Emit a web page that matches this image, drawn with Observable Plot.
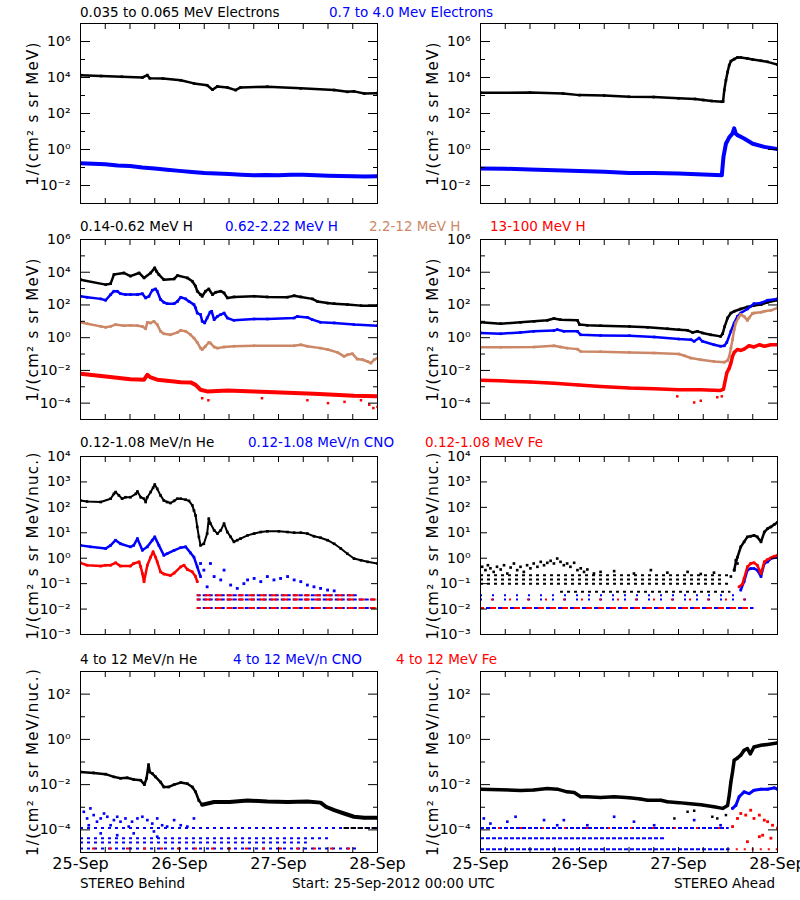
<!DOCTYPE html>
<html><head><meta charset="utf-8">
<script src="https://cdn.jsdelivr.net/npm/d3@7"></script>
<script src="https://cdn.jsdelivr.net/npm/@observablehq/plot@0.6"></script>
<style>
body{margin:0;background:#fff;}
#root{position:relative;width:800px;height:900px;overflow:hidden;font-family:"DejaVu Sans",sans-serif;background:#fff;}
.t{position:absolute;font-size:13.5px;line-height:1;white-space:nowrap;transform:translateY(-50%);}
</style></head><body><div id="root"></div><script>
// ---------------- DATA (hours since 25-Sep-2012 00:00 UTC, flux) ----------------
// Row 1: electrons
const behindElecLow = [[0,1.35e4],[5,1.2e4],[10,1.1e4],[15,1.0e4],[16.2,1.35e4],[16.8,9e3],[20,8.7e3],[24.3,7e3],[27.5,4.7e3],[30.7,3.7e3],[32,2.1e3],[33.2,3.2e3],[35.6,2.8e3],[37.6,2.0e3],[38.8,2.8e3],[45.3,3.1e3],[53.4,2.5e3],[61.5,2.0e3],[64.7,1.6e3],[66.3,1.7e3],[68.8,1.3e3],[72,1.35e3]];
const behindElecHigh = [[0,0.17],[3,0.16],[6,0.15],[9,0.13],[12,0.12],[15,0.1],[18,0.087],[21,0.075],[24,0.065],[27,0.057],[30,0.05],[33,0.046],[36,0.043],[39,0.04],[42,0.037],[45,0.038],[48,0.037],[51,0.039],[54,0.04],[57,0.037],[60,0.035],[63,0.034],[66,0.033],[69,0.032],[72,0.033]];
const aheadElecLow = [[0,1.4e3],[12,1.45e3],[20,1.3e3],[24,1.05e3],[30,1.0e3],[36,850],[42,820],[48,700],[52,640],[54,560],[56,500],[58.5,450],[58.8,460],[59.1,2e3],[59.5,7e3],[59.9,2e4],[60.3,4.9e4],[60.7,8.1e4],[61.5,1.05e5],[62.3,1.3e5],[63.1,1.3e5],[64.7,1.15e5],[66,1.0e5],[68,8.5e4],[69.6,7.4e4],[72,5.2e4]];
const aheadElecHigh = [[0,0.087],[6,0.085],[12,0.078],[18,0.07],[24,0.063],[30,0.058],[36,0.05],[42,0.05],[48,0.047],[54,0.041],[58.5,0.037],[58.9,0.39],[59.5,2.1],[60.3,4.7],[61.1,7.8],[61.5,15],[61.9,7.5],[62.3,6.3],[63.9,4.1],[66,2.1],[68.8,1.4],[72,1.05]];
// Row 2: protons
const behindH1 = [[0,3.5e3],[6.1,1.75e3],[7.3,2e3],[8.1,7.2e3],[10.5,9e3],[12.1,5.8e3],[14.2,9e3],[15.4,4.5e3],[17,9e3],[18,1.85e4],[18.4,1.15e4],[19,7.2e3],[20.2,3.5e3],[22.7,3.9e3],[23.5,6.3e3],[25.9,4.5e3],[27.1,2.8e3],[27.9,1.4e3],[28.3,690],[29.1,430],[29.5,340],[30.3,690],[31.1,950],[32,430],[32.8,600],[34,690],[34.8,540],[35.6,270],[37.2,310],[42.1,340],[45.3,310],[50.2,300],[51.8,370],[53.4,310],[56.2,235],[57.4,165],[59.9,130],[61.5,120],[64.7,105],[68,91],[72,91]];
const behindH2 = [[0,340],[1.6,295],[4.9,235],[6.1,195],[7.3,430],[8.1,690],[8.9,690],[9.7,490],[10.9,430],[12.1,430],[13.8,430],[15,490],[15.8,270],[16.6,340],[17.4,790],[18.2,950],[18.6,690],[19.4,215],[20.2,145],[21,120],[22.7,120],[23.5,165],[24.3,295],[25.5,235],[26.3,165],[27.5,105],[27.9,66],[28.3,32],[29.1,26],[29.5,10],[30.1,8],[30.7,16],[31.4,36],[31.8,41],[32.4,12.6],[33.2,20],[34,26],[34.8,32],[35.6,16],[37.2,11.5],[42.1,13.8],[45.3,13.8],[51.8,16],[52.6,20],[55,17.4],[56.2,12.6],[58.2,8.7],[61.5,8],[66.3,6.3],[72,5.4]];
const behindH3 = [[0,8.7],[1.6,7.2],[4.9,4.9],[6.1,4.3],[7.3,4.9],[8.5,6.3],[10.5,5.4],[12.1,5.7],[13.8,5.4],[15,4.9],[15.8,3.5],[16.2,8.7],[17,7.9],[17.8,10],[18.6,6.3],[19.4,2.45],[20.2,1.74],[21.8,1.5],[23.5,2.1],[24.3,2.8],[25.5,2.45],[26.7,1.5],[27.5,0.95],[28.3,0.51],[29.1,0.23],[29.5,0.19],[30.3,0.3],[31.1,0.51],[31.5,0.47],[32.4,0.27],[33.2,0.23],[34.8,0.27],[37.2,0.3],[42.1,0.32],[51.8,0.32],[53.4,0.37],[55,0.3],[58.2,0.23],[59.9,0.19],[62.3,0.126],[63.9,0.072],[64.7,0.09],[65.9,0.105],[67.1,0.049],[68.4,0.045],[69.6,0.035],[70.4,0.028],[71.2,0.045],[72,0.057]];
const behindH4 = [[0,6.3e-3],[6.1,4.3e-3],[12.1,2.9e-3],[15.4,2.7e-3],[16.2,5.4e-3],[17,3.7e-3],[18.6,2.7e-3],[21,2.3e-3],[24.3,1.9e-3],[26.7,1.85e-3],[27.9,1.3e-3],[29.1,6.6e-4],[30.7,5.2e-4],[35.6,6e-4],[42.1,5.2e-4],[46.9,4.7e-4],[51.8,4.1e-4],[56.6,3.7e-4],[61.5,3.2e-4],[66.3,2.8e-4],[72,2.6e-4]];
const behindH4Low = [[29.5,2e-4],[31,1.5e-4],[44,2e-4],[55,1.5e-4],[60,1e-4],[64,1.2e-4],[68,1.5e-4],[70,8e-5],[71,5e-5],[72,6e-5]];
const aheadH1 = [[0,8.7],[4.9,7.2],[9.7,8.7],[13,10],[16.2,11.5],[17.8,15],[19.4,12.6],[23.5,11.5],[24,6.3],[25.9,5.7],[29.1,5.4],[36.1,4.9],[40.5,4.3],[45.3,3.5],[48.1,3.1],[50.2,2.8],[51.4,2.1],[52.6,2.45],[53.8,1.95],[55.8,1.5],[58.2,1.2],[58.7,1.74],[59.2,4.9],[59.9,16],[60.7,32],[61.5,41],[63.1,57],[64.7,76],[66.3,91],[68,105],[69.6,145],[72,195]];
const aheadH2 = [[0,1.95],[4.9,1.74],[9.7,2.1],[12.9,2.45],[17.8,2.7],[18.6,3.1],[20.2,2.45],[23.5,2.45],[24.3,1.5],[29.1,1.38],[36.1,1.32],[42.1,1.1],[48.1,0.83],[51,0.76],[51.8,0.6],[53,0.95],[53.8,0.6],[56.6,0.37],[58.2,0.3],[59.1,0.32],[59.7,0.51],[60.7,2.45],[61.5,7.9],[62.3,20],[63.1,32],[64.7,57],[65.5,83],[66.3,120],[68,132],[69.6,195],[72,235]];
const aheadH3 = [[0,0.26],[4.9,0.26],[13,0.27],[17.8,0.32],[19.4,0.27],[21,0.23],[23.5,0.2],[24.3,0.145],[29.1,0.138],[36.1,0.126],[42.1,0.115],[48.1,0.1],[49.4,0.079],[51,0.057],[53.4,0.045],[56.6,0.035],[59.1,0.032],[59.9,0.04],[60.3,0.072],[60.7,0.23],[61.1,0.76],[61.5,3.1],[61.9,7.9],[62.5,16],[63.1,26],[63.9,20],[64.7,11.5],[65.1,16],[65.9,30],[66.3,32],[68,36],[68.8,41],[70.4,47],[72,66]];
const aheadH4 = [[0,2.5e-3],[4.9,2.3e-3],[12.1,1.95e-3],[17.8,1.66e-3],[23.8,1.3e-3],[29.1,1.05e-3],[36.1,8.3e-4],[42.1,7.6e-4],[48.1,6.6e-4],[53.4,6.6e-4],[58.2,6e-4],[58.9,7.2e-4],[59.2,1.66e-3],[59.7,6.9e-3],[60.3,1.38e-2],[60.7,0.028],[61.1,0.072],[61.5,0.126],[62.3,0.19],[63.1,0.166],[63.9,0.2],[65.1,0.32],[66.3,0.27],[67.6,0.37],[68.8,0.3],[70.4,0.37],[72,0.37]];
const aheadH4Low = [[47.7,2.6e-4],[51.8,1.1e-4],[53.4,1.4e-4],[57.4,2.3e-4],[58.5,2.6e-4]];
// Row 3: 0.12-1.08 MeV/n ions
const behindHe = [[0,186],[1.6,170],[4.9,162],[7.3,219],[8.1,340],[8.5,400],[9.3,295],[10.1,219],[10.9,250],[12.1,250],[13.4,340],[13.8,420],[14.6,250],[15.4,219],[15.8,162],[16.2,250],[17,400],[17.6,590],[18,790],[18.6,535],[19.4,295],[20.2,186],[21,162],[21.8,148],[22.7,180],[23.5,219],[24.3,219],[25.5,200],[26.3,180],[27.1,120],[27.5,76],[27.9,48],[28.3,17],[28.7,6.9],[29.1,3.2],[29.9,3.7],[30.7,9.3],[31.1,36],[31.5,23],[32.4,12.5],[33.2,9.3],[34,12.5],[34.8,23],[35.6,10.7],[36.4,6.9],[37.2,4.4],[38,5.1],[38.8,5.9],[40.5,7.9],[42.1,9.3],[43.7,10.7],[45.3,11.4],[48.1,11.4],[50.2,10.7],[51.8,10.1],[53.4,10.1],[55,9.3],[56.6,7.3],[58.2,6.4],[59.9,5.1],[61.5,3.7],[63.1,2.4],[64.7,1.5],[66.3,0.97],[68,0.83],[69.6,0.72],[72,0.62]];
const behindCno = [[0,3.2],[2.4,2.8],[6.1,2.4],[7.3,3.2],[8.5,5.1],[9.7,3.7],[12.1,2.8],[12.9,3.2],[13.8,5.9],[15,2.05],[16.2,2.8],[17.4,5.1],[18,6.9],[19,3.2],[20.2,1.3],[21,1.5],[22.7,2.05],[24.3,2.6],[25.5,2.8],[26.7,1.6],[27.5,1.1],[28.3,0.46],[29.1,0.19]];
const behindCnoScatter = [[29.1,0.62],[29.9,0.34],[30.7,0.075],[31.5,0.62],[32.4,0.19],[34,0.14],[34.8,0.34],[36.4,0.088],[38,0.065],[39.6,0.1],[40.5,0.14],[42.1,0.16],[43.7,0.12],[45.3,0.19],[46.9,0.14],[48.5,0.16],[50.2,0.19],[51.8,0.14],[53.4,0.12],[55,0.088],[56.6,0.075],[58.2,0.065],[59.9,0.056],[61.5,0.052]];
const behindFe = [[0,0.66],[1.6,0.53],[4.9,0.49],[6.1,0.53],[7.3,0.53],[8.5,0.66],[9.7,0.49],[12.1,0.49],[12.9,0.62],[14.2,0.72],[14.6,0.46],[15,0.25],[15.4,0.12],[16.2,0.53],[17,1.1],[17.6,1.8],[18.2,1.1],[18.6,0.72],[19.4,0.29],[20.2,0.24],[21.8,0.21],[22.7,0.26],[24.3,0.46],[25.1,0.53],[25.9,0.36],[27.1,0.29],[27.9,0.19],[28.3,0.12]];
const behindLowFloors = [[0.011,28.3,72],[0.024,28.3,72],[0.035,28.3,67.5]]; // [level, from h, to h]
const aheadHeScatter = [[0.4,0.46],[1.2,0.34],[1.8,0.53],[2.4,0.4],[3.2,0.29],[4,0.46],[4.9,0.36],[5.7,0.53],[6.5,0.25],[7.3,0.43],[8.1,0.62],[8.9,0.34],[9.7,0.46],[10.5,0.29],[11.3,0.53],[12.1,0.4],[12.9,0.62],[13.8,0.46],[14.6,0.72],[15.4,0.53],[16.2,0.66],[17,0.79],[17.8,0.62],[18.6,0.97],[19.4,0.72],[20.2,0.53],[21,0.62],[21.8,0.46],[22.7,0.66],[23.5,0.34],[24.3,0.4],[25.1,0.29],[25.9,0.36],[27.5,0.25],[29.1,0.29],[32.4,0.31],[37.2,0.25],[41.3,0.34],[45.3,0.27],[50.2,0.29],[53.4,0.24],[56.6,0.27],[60.7,0.19],[61.5,0.34],[61.9,0.83],[62.3,0.62]];
const aheadHeRows = [[0.215,0,60.5],[0.146,0,59],[0.1,0,60.5],[0.048,19.4,60.7]];
const aheadHeRise = [[61.5,0.34],[62,0.83],[62.3,1.1],[63.1,2.8],[63.9,4.4],[64.7,6.9],[65.5,7.3],[66.3,7.9],[67.1,6.9],[68,4.4],[68.8,10.7],[69.6,14.5],[70.4,17],[71.2,21],[72,26]];
const aheadCno = [[63.1,0.056],[63.9,0.12],[64.7,0.34],[65.5,0.39],[66.3,0.39],[67.1,0.34],[68,0.19],[68.8,0.62],[69.6,0.72],[70.4,0.97],[72,1.1]];
const aheadFe = [[62.7,0.075],[63.5,0.096],[63.9,0.16],[64.7,0.46],[65.5,0.62],[66.3,0.66],[67.1,0.53],[68,0.25],[68.8,0.72],[69.6,0.89],[70.4,1.03],[71.2,1.2],[72,1.3]];
const aheadLowFloors = [[0.011,0,66.3],[0.024,0,66.3],[0.035,0,62]];
// Row 4: 4-12 MeV/n ions
const behindHe4 = [[0,0.036],[3.2,0.033],[6.1,0.029],[8.1,0.022],[9.7,0.019],[11.3,0.02],[12.9,0.017],[14.6,0.0156],[15.5,0.01],[16,0.019],[16.5,0.076],[16.8,0.036],[17.4,0.031],[18.2,0.022],[19.4,0.013],[20.2,0.0079],[21.4,0.0079],[22.7,0.01],[24.3,0.0123],[25.9,0.011],[27.1,0.0079],[27.9,0.0048],[28.7,0.002],[29.5,0.0013]];
const behindHe4Late = [[29.5,0.0013],[32.4,0.0017],[36.1,0.0017],[40.5,0.002],[45.3,0.0018],[50.2,0.0017],[55,0.0018],[58.2,0.0016],[59.5,0.00105],[61.5,7.4e-4],[63.9,5.3e-4],[66.3,3.8e-4],[68.8,3.4e-4],[72,3.4e-4]];
const behindHe4Floor = [[1.2e-4,63.9,72]];
const behindCno4 = [[0.8,6.3e-4],[1.6,3.2e-4],[2.4,8.9e-4],[2,1.6e-4],[3.2,4.5e-4],[4,2.3e-4],[4.9,3.2e-4],[5.7,5.3e-4],[6.5,3.8e-4],[7.3,1.6e-4],[8.1,2.7e-4],[8.9,3.8e-4],[9.7,2.3e-4],[10.9,3.2e-4],[11.7,1.4e-4],[12.5,2.3e-4],[13.8,3.2e-4],[15,3.8e-4],[16.2,2.7e-4],[17.4,1.9e-4],[18.6,3.2e-4],[19.8,1.6e-4],[21,1.4e-4],[22.7,2.7e-4],[24.3,1.6e-4],[25.9,1.4e-4],[27.5,3.2e-4],[4.9,7e-5],[8.9,5.8e-5],[12.9,7e-5],[17.8,8.5e-5],[18.6,5e-5]];
const behindFloors4 = [[1.2e-4,0,72],[4.3e-5,0,61],[2.8e-5,0,55],[1.5e-5,0,67.5]];
const aheadHe4 = [[0,6.3e-3],[4.9,6e-3],[9.7,5.5e-3],[12.9,5.8e-3],[16.2,6.7e-3],[18.6,6.3e-3],[21,4.8e-3],[22.7,4.5e-3],[24.3,2.9e-3],[25.9,2.9e-3],[29.1,2.7e-3],[32.4,2.9e-3],[36.1,2.6e-3],[38.8,2.3e-3],[40.5,2.05e-3],[43.7,2.05e-3],[45.3,1.74e-3],[48.1,1.6e-3],[50.2,1.47e-3],[53.4,1.3e-3],[56.6,1.05e-3],[58.7,8.9e-4],[59.9,1.2e-3],[60.3,3.4e-3],[60.7,0.013],[61.1,0.036],[61.5,0.12],[62.3,0.15],[63.1,0.2],[63.9,0.33],[64.7,0.39],[65.4,0.23],[66.3,0.46],[68,0.55],[69.6,0.6],[72,0.69]];
const aheadHe4Out = [[47,3.2e-4],[50.2,6.3e-4],[51.8,7e-4],[56.2,3.8e-4],[57.4,3.2e-4],[59.5,4.5e-4]];
const aheadCno4 = [[0.8,3.2e-4],[2.4,1.9e-4],[6.5,2.3e-4],[8.5,3.8e-4],[15.4,2.7e-4],[18.6,1.6e-4],[20.2,2.7e-4],[25.9,1.6e-4],[32.4,3.8e-4],[37.2,2.3e-4],[42.1,1.6e-4],[51.8,2.7e-4],[58.2,1.6e-4]];
const aheadCno4Rise = [[61.1,9e-4],[61.9,1.2e-3],[62.7,2.9e-3],[63.9,4.8e-3],[65.1,4e-3],[66.3,5.6e-3],[68,6.3e-3],[69.6,6.3e-3],[71.2,7.2e-3],[72,6.3e-3]];
const aheadFe4Rise = [[61.1,1.4e-4],[62.3,3.2e-4],[63.1,5.3e-4],[64.3,4.5e-4],[65.5,7.4e-4],[66.3,3.2e-4],[67.6,4.5e-4],[68.8,2.7e-4],[69.6,2.3e-4],[70.8,1.6e-4],[72,1.2e-4],[67.6,5e-5],[68.4,5.8e-5],[70.4,4.3e-5],[64.7,3e-5]];
const aheadFloors4 = [[1.2e-4,0,60.3],[4.3e-5,0,45],[1.4e-5,0,60.5]];
const aheadFe4Floor = [[1.4e-5,62,72]];

// Text
const rowTitles = [
  ["0.035 to 0.065 MeV Electrons", "0.7 to 4.0 Mev Electrons"],
  ["0.14-0.62 MeV H", "0.62-2.22 MeV H", "2.2-12 MeV H", "13-100 MeV H"],
  ["0.12-1.08 MeV/n He", "0.12-1.08 MeV/n CNO", "0.12-1.08 MeV Fe"],
  ["4 to 12 MeV/n He", "4 to 12 MeV/n CNO", "4 to 12 MeV Fe"]
];
const yTitles = ["1/(cm\u00B2 s sr MeV)", "1/(cm\u00B2 s sr MeV/nuc.)"];
const dayLabels = ["25-Sep", "26-Sep", "27-Sep", "28-Sep"];
const captions = ["STEREO Behind", "Start: 25-Sep-2012 00:00 UTC", "STEREO Ahead"];

// ---------------- LAYOUT ----------------
const C = {k: "#000000", b: "#0000ff", t: "#cc8866", r: "#ff0000"};
const T0 = Date.UTC(2012, 8, 25);
const toT = h => new Date(T0 + h * 3600e3);
const rows = a => a.map(([h, v]) => ({t: toT(h), v}));
const floorRows = a => a.map(([lv, a0, a1]) => ({lv, x1: toT(a0), x2: toT(a1)}));
const dayTicks = [0, 24, 48, 72].map(toT);
const dayLabel = new Map(dayTicks.map((d, i) => [+d, dayLabels[i]]));
const hourTicks = d3.range(0, 73, 6).map(toT);
const SUP = {"0":"\u2070","1":"\u00B9","2":"\u00B2","3":"\u00B3","4":"\u2074","5":"\u2075","6":"\u2076","7":"\u2077","8":"\u2078","9":"\u2079","-":"\u207B"};
const supFmt = v => "10" + String(Math.round(Math.log10(v))).split("").map(c => SUP[c]).join("");
const root = document.getElementById("root");

function panel(cfg) {
  const {left, frameTop, frameH, yDomain, labelExp, minorExp, majLen, yTitle, layers, showX} = cfg;
  const mt = 3, mb = showX ? 40 : 3;
  const yLab = labelExp.map(e => 10 ** e), yMin = minorExp.map(e => 10 ** e);
  const marks = [];
  for (const L of layers) {
    if (L.kind === "line") {
      marks.push(Plot.line(rows(L.data), {x: "t", y: "v", stroke: L.color, strokeWidth: L.w ?? 2.5, clip: true}));
      marks.push(Plot.dot(rows(L.data), {x: "t", y: "v", fill: L.color, r: 1.5, symbol: "square", clip: true}));
    } else if (L.kind === "dot") {
      marks.push(Plot.dot(rows(L.data), {x: "t", y: "v", fill: L.color, r: L.r ?? 1.4, symbol: "square", clip: true}));
    } else if (L.kind === "floor") {
      marks.push(Plot.ruleY(floorRows(L.data), {y: "lv", x1: "x1", x2: "x2", stroke: L.color, strokeWidth: 2, strokeDasharray: L.dash, strokeDashoffset: L.off ?? 0, clip: true}));
    }
  }
  marks.push(Plot.frame({stroke: "black", strokeWidth: 1}));
  const blank = () => "";
  const ax = {label: null, tickFormat: blank};
  marks.push(Plot.axisY(yLab, {...ax, anchor: "left", tickSize: majLen, dx: majLen}));
  marks.push(Plot.axisY(yLab, {...ax, anchor: "right", tickSize: majLen, dx: -majLen}));
  if (yMin.length) {
    marks.push(Plot.axisY(yMin, {...ax, anchor: "left", tickSize: 5, dx: 5}));
    marks.push(Plot.axisY(yMin, {...ax, anchor: "right", tickSize: 5, dx: -5}));
  }
  marks.push(Plot.axisY(yLab, {anchor: "left", tickSize: 0, tickPadding: 10, tickFormat: supFmt, fontSize: 14, label: null}));
  marks.push(Plot.axisX(hourTicks, {...ax, anchor: "bottom", tickSize: 5, dy: -5}));
  marks.push(Plot.axisX(hourTicks, {...ax, anchor: "top", tickSize: 5, dy: 5}));
  if (showX) marks.push(Plot.axisX(dayTicks, {anchor: "bottom", tickSize: 0, tickPadding: 5, tickFormat: d => dayLabel.get(+d), fontSize: 16, label: null}));
  marks.push(Plot.text([yTitle], {text: d => d, frameAnchor: "left", textAnchor: "middle", dx: -47, rotate: -90, fontSize: 15}));
  const svg = Plot.plot({
    width: 400, height: frameH + mt + mb,
    marginLeft: 80, marginRight: 23, marginTop: mt, marginBottom: mb,
    x: {type: "utc", domain: [toT(0), toT(72)]},
    y: {type: "log", domain: yDomain},
    style: {fontFamily: "DejaVu Sans, sans-serif", fontSize: "14px", background: "transparent", overflow: "visible", color: "black"},
    marks
  });
  // widen the letter spacing of the axis title to match the wide plotting font
  d3.select(svg).selectAll("text").filter(function () { return this.textContent === yTitle; }).attr("letter-spacing", "1.3px");
  svg.style.position = "absolute";
  svg.style.left = left + "px";
  svg.style.top = (frameTop - mt) + "px";
  root.appendChild(svg);
}

const rowsCfg = [
  {frameTop: 23, frameH: 180, yDomain: [1e-3, 1e7], labelExp: [6,4,2,0,-2], minorExp: [7,5,3,1,-1,-3], majLen: 10, yTitle: yTitles[0]},
  {frameTop: 239, frameH: 180, yDomain: [1e-5, 1e6], labelExp: [6,4,2,0,-2,-4], minorExp: [5,3,1,-1,-3,-5], majLen: 10, yTitle: yTitles[0]},
  {frameTop: 456, frameH: 178, yDomain: [1e-3, 1e4], labelExp: [4,3,2,1,0,-1,-2,-3], minorExp: [], majLen: 7, yTitle: yTitles[1]},
  {frameTop: 671, frameH: 181, yDomain: [1e-5, 1e3], labelExp: [2,0,-2,-4], minorExp: [3,1,-1,-3,-5], majLen: 10, yTitle: yTitles[1], showX: true}
];

const layersBehind = [
  [{kind:"line", data: behindElecLow, color: C.k, w: 2.5}, {kind:"line", data: behindElecHigh, color: C.b, w: 4}],
  [{kind:"line", data: behindH1, color: C.k, w: 2.5}, {kind:"line", data: behindH2, color: C.b, w: 2.5}, {kind:"line", data: behindH3, color: C.t, w: 2.5}, {kind:"line", data: behindH4, color: C.r, w: 4}, {kind:"dot", data: behindH4Low, color: C.r}],
  [{kind:"floor", data: behindLowFloors, color: C.b, dash: "4,2"}, {kind:"floor", data: behindLowFloors, color: C.r, dash: "6,5", off: 3},
   {kind:"line", data: behindHe, color: C.k, w: 2}, {kind:"line", data: behindCno, color: C.b, w: 2.5}, {kind:"dot", data: behindCnoScatter, color: C.b, r: 1.6}, {kind:"line", data: behindFe, color: C.r, w: 2.5}],
  [{kind:"floor", data: behindFloors4, color: C.b, dash: "3,4"}, {kind:"floor", data: behindFloors4.slice(3), color: C.r, dash: "3,14", off: 5}, {kind:"floor", data: behindHe4Floor, color: C.k, dash: "5,2"},
   {kind:"dot", data: behindCno4, color: C.b, r: 1.5}, {kind:"line", data: behindHe4, color: C.k, w: 2.5}, {kind:"line", data: behindHe4Late, color: C.k, w: 4}]
];
const layersAhead = [
  [{kind:"line", data: aheadElecLow, color: C.k, w: 2.5}, {kind:"line", data: aheadElecHigh, color: C.b, w: 4}],
  [{kind:"line", data: aheadH1, color: C.k, w: 2.5}, {kind:"line", data: aheadH2, color: C.b, w: 2.5}, {kind:"line", data: aheadH3, color: C.t, w: 2.5}, {kind:"line", data: aheadH4, color: C.r, w: 3.5}, {kind:"dot", data: aheadH4Low, color: C.r}],
  [{kind:"floor", data: aheadLowFloors.slice(0,1), color: C.b, dash: "4,2"}, {kind:"floor", data: aheadLowFloors.slice(0,1), color: C.r, dash: "6,6", off: 2}, {kind:"floor", data: aheadLowFloors.slice(1), color: C.b, dash: "2,10"}, {kind:"floor", data: aheadLowFloors.slice(1,2), color: C.r, dash: "2,16", off: 7},
   {kind:"floor", data: aheadHeRows, color: C.k, dash: "3,4"}, {kind:"dot", data: aheadHeScatter, color: C.k, r: 1.5}, {kind:"line", data: aheadHeRise, color: C.k, w: 2.5},
   {kind:"line", data: aheadCno, color: C.b, w: 2.5}, {kind:"line", data: aheadFe, color: C.r, w: 2.5}],
  [{kind:"floor", data: aheadFloors4, color: C.b, dash: "4,2"}, {kind:"floor", data: aheadFloors4.slice(0,1), color: C.r, dash: "2,20", off: 4}, {kind:"floor", data: aheadFe4Floor, color: C.r, dash: "2,6"},
   {kind:"dot", data: aheadCno4, color: C.b, r: 1.5}, {kind:"dot", data: aheadHe4Out, color: C.k, r: 1.4}, {kind:"line", data: aheadHe4, color: C.k, w: 3.5},
   {kind:"line", data: aheadCno4Rise, color: C.b, w: 3}, {kind:"dot", data: aheadFe4Rise, color: C.r, r: 1.6}]
];

rowsCfg.forEach((cfg, i) => {
  panel({...cfg, left: 0, layers: layersBehind[i]});
  panel({...cfg, left: 400, layers: layersAhead[i]});
});

// Titles & captions (HTML)
const titleX = [[80, 329], [80, 225, 369, 490], [80, 248, 425], [80, 233, 396]];
const titleY = [13, 227, 443, 660];
const titleColor = [[C.k, C.b], [C.k, C.b, C.t, C.r], [C.k, C.b, C.r], [C.k, C.b, C.r]];
rowTitles.forEach((segs, i) => segs.forEach((s, j) => {
  const el = document.createElement("div");
  el.className = "t"; el.textContent = s;
  el.style.left = titleX[i][j] + "px"; el.style.top = titleY[i] + "px"; el.style.color = titleColor[i][j];
  root.appendChild(el);
}));
const capPos = [{left: 80}, {left: 292}, {right: 25}];
captions.forEach((s, i) => {
  const el = document.createElement("div");
  el.className = "t"; el.textContent = s; el.style.top = "884px";
  if (capPos[i].left != null) el.style.left = capPos[i].left + "px"; else el.style.right = capPos[i].right + "px";
  root.appendChild(el);
});
</script></body></html>
